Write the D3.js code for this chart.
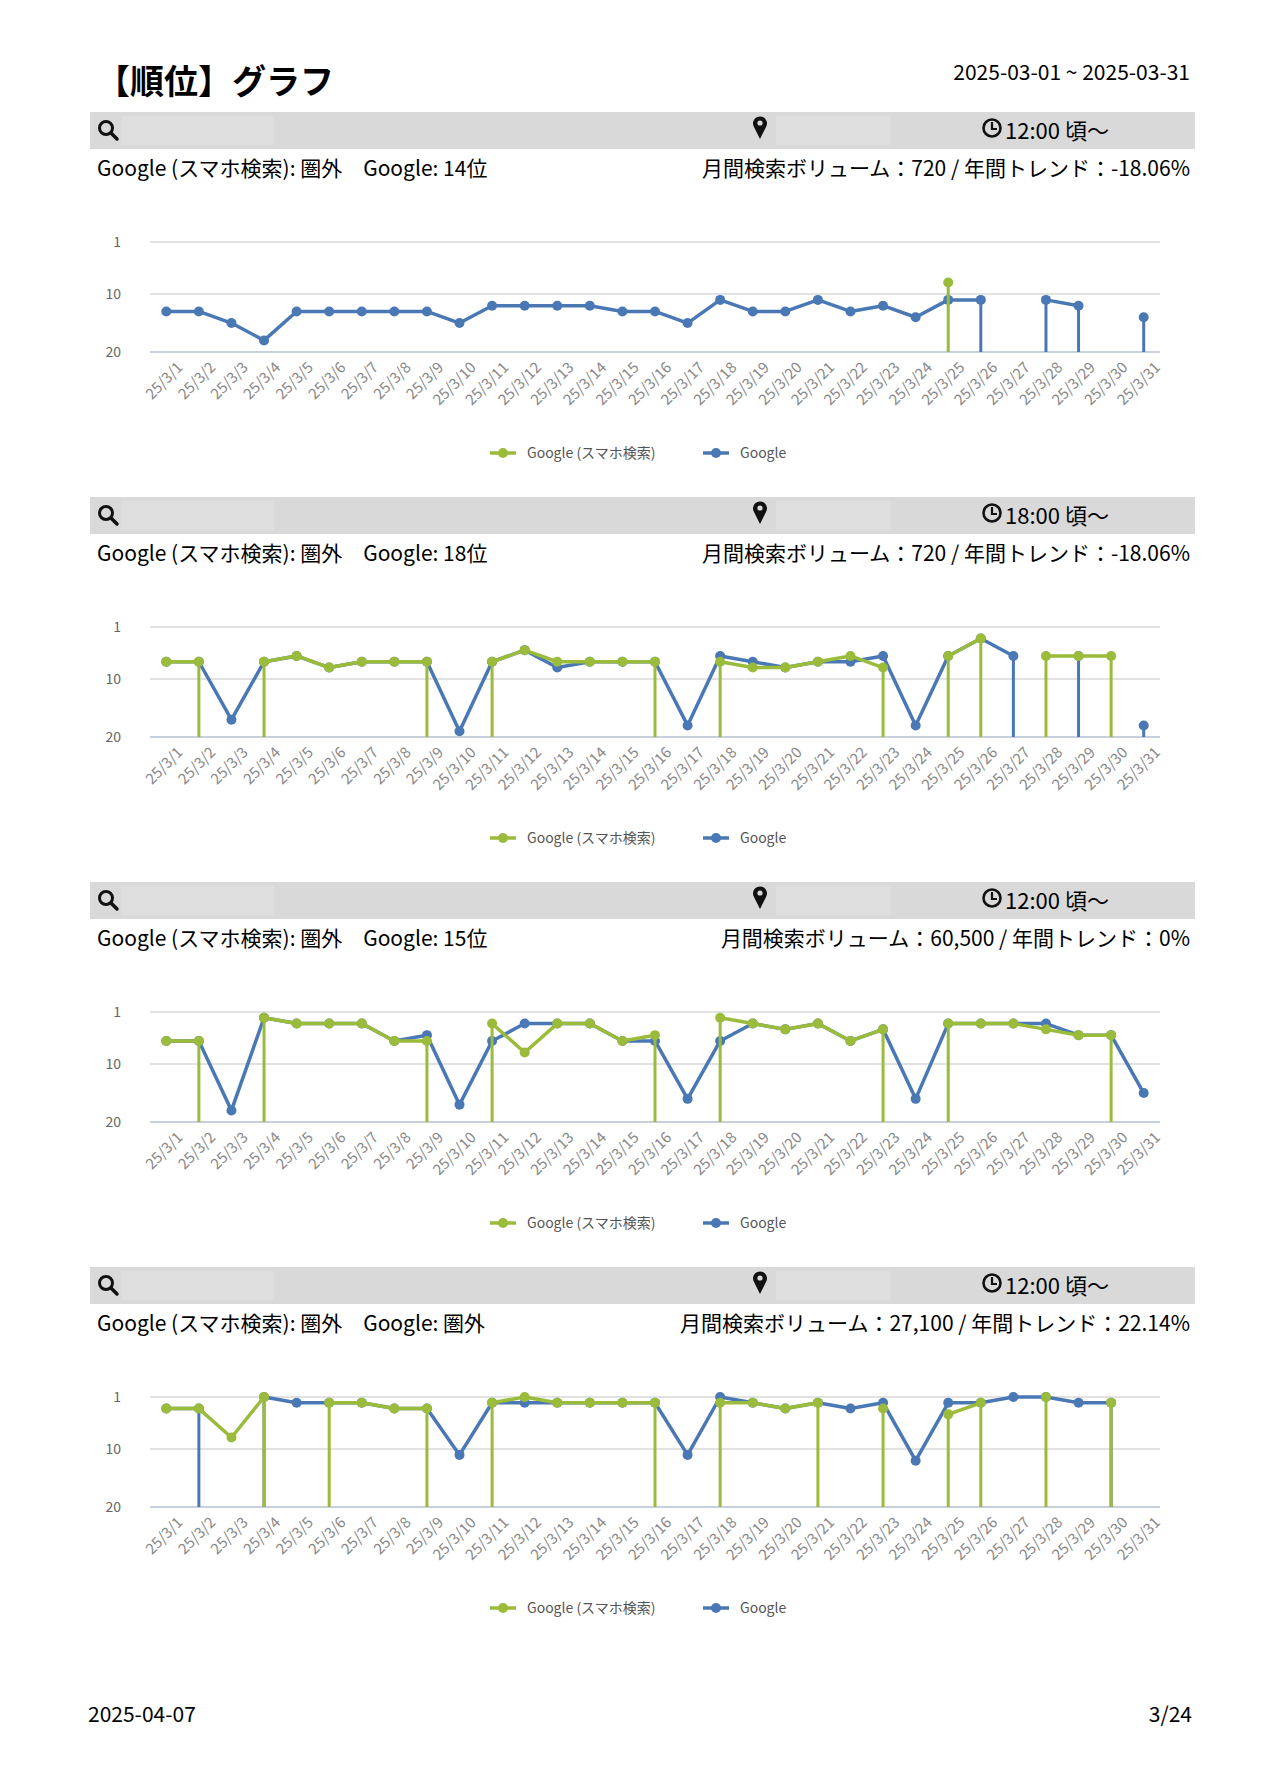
<!DOCTYPE html>
<html><head><meta charset="utf-8">
<script src="https://cdn.jsdelivr.net/npm/d3@7"></script>
<style>
body{margin:0;background:#fff;}
text{font-family:"Noto Sans CJK JP","Noto Sans",sans-serif;}
</style></head>
<body>
<svg id="page" width="1277" height="1791"></svg>
<script>
// dates 25/3/1 .. 25/3/31
const dates = d3.range(1, 32).map(d => `25/3/${d}`);
const yTicks = [1, 10, 20];

// null = out of range (圏外)
const mobile1 = [null,null,null,null,null,null,null,null,null,null,null,null,null,null,null,null,null,null,null,null,null,null,null,null,8,null,null,null,null,null,null];
const google1 = [13,13,15,18,13,13,13,13,13,15,12,12,12,12,13,13,15,11,13,13,11,13,12,14,11,11,null,11,12,null,14];

const mobile2 = [7,7,null,7,6,8,7,7,7,null,7,5,7,7,7,7,null,7,8,8,7,6,8,null,6,3,null,6,6,6,null];
const google2 = [7,7,17,7,6,8,7,7,7,19,7,5,8,7,7,7,18,6,7,8,7,7,6,18,6,3,6,null,6,null,18];

const mobile3 = [6,6,null,2,3,3,3,6,6,null,3,8,3,3,6,5,null,2,3,4,3,6,4,null,3,3,3,4,5,5,null];
const google3 = [6,6,18,2,3,3,3,6,5,17,6,3,3,3,6,6,16,6,3,4,3,6,4,16,3,3,3,3,5,5,15];

const mobile4 = [3,3,8,1,null,2,2,3,3,null,2,1,2,2,2,2,null,2,2,3,2,null,3,null,4,2,null,1,null,2,null];
const google4 = [3,3,null,1,2,2,2,3,3,11,2,2,2,2,2,2,11,1,2,3,2,3,2,12,2,2,1,1,2,2,null];

const times = ["12:00 頃～", "18:00 頃～", "12:00 頃～", "12:00 頃～"];
const ranks = ["Google (スマホ検索): 圏外　Google: 14位", "Google (スマホ検索): 圏外　Google: 18位",
  "Google (スマホ検索): 圏外　Google: 15位", "Google (スマホ検索): 圏外　Google: 圏外"];
const volumes = ["月間検索ボリューム：720 / 年間トレンド：-18.06%", "月間検索ボリューム：720 / 年間トレンド：-18.06%",
  "月間検索ボリューム：60,500 / 年間トレンド：0%", "月間検索ボリューム：27,100 / 年間トレンド：22.14%"];
const charts = [[mobile1, google1], [mobile2, google2], [mobile3, google3], [mobile4, google4]];

const GREEN = "#9bbb3b", BLUE = "#4a78b5";
const svg = d3.select("#page");

svg.append("text").attr("x", 96).attr("y", 94).attr("font-size", 34).attr("font-weight", "bold").text("【順位】グラフ");
svg.append("text").attr("x", 1190).attr("y", 80).attr("text-anchor", "end").attr("font-size", 21).text("2025-03-01 ~ 2025-03-31");
svg.append("text").attr("x", 88).attr("y", 1722).attr("font-size", 21).text("2025-04-07");
svg.append("text").attr("x", 1192).attr("y", 1722).attr("text-anchor", "end").attr("font-size", 21).text("3/24");

const x = d3.scalePoint().domain(dates).range([150, 1160]).padding(0.5);

charts.forEach(([mob, goo], i) => {
  const top = 112 + i * 385;
  const g = svg.append("g").attr("transform", `translate(0,${top})`);

  // header bar
  g.append("rect").attr("x", 90).attr("y", 0).attr("width", 1105).attr("height", 37).attr("fill", "#d9d9d9");
  g.append("rect").attr("x", 121).attr("y", 4).attr("width", 153).attr("height", 29).attr("fill", "#dedede");
  g.append("rect").attr("x", 776).attr("y", 4).attr("width", 115).attr("height", 29).attr("fill", "#dedede");
  // search icon
  g.append("circle").attr("cx", 106).attr("cy", 16).attr("r", 6.5).attr("fill", "none").attr("stroke", "#111").attr("stroke-width", 3);
  g.append("line").attr("x1", 111).attr("y1", 21).attr("x2", 117).attr("y2", 27).attr("stroke", "#111").attr("stroke-width", 3.5).attr("stroke-linecap", "round");
  // pin icon
  g.append("path").attr("d", "M760,27 L754,15 A7,7 0 1 1 766,15 Z").attr("fill", "#111");
  g.append("circle").attr("cx", 760).attr("cy", 11).attr("r", 2.6).attr("fill", "#d9d9d9");
  // clock icon
  g.append("circle").attr("cx", 992).attr("cy", 16).attr("r", 8.5).attr("fill", "none").attr("stroke", "#111").attr("stroke-width", 2.6);
  g.append("path").attr("d", "M992,10 V17 H997").attr("fill", "none").attr("stroke", "#111").attr("stroke-width", 2.2);
  g.append("text").attr("x", 1005).attr("y", 27).attr("font-size", 22).text(times[i]);

  g.append("text").attr("x", 97).attr("y", 64).attr("font-size", 21).text(ranks[i]);
  g.append("text").attr("x", 1190).attr("y", 64).attr("text-anchor", "end").attr("font-size", 21).text(volumes[i]);

  const y = d3.scaleLinear().domain([1, 20]).range([130, 240]);

  g.selectAll(".grid").data(yTicks).join("line")
    .attr("x1", 150).attr("x2", 1160)
    .attr("y1", d => y(d)).attr("y2", d => y(d))
    .attr("stroke", d => d === 20 ? "#c8cfdd" : "#e2e2e2").attr("stroke-width", 2);

  const yAxis = g.append("g").attr("transform", "translate(124,0)")
    .call(d3.axisLeft(y).tickValues(yTicks).tickSize(0));
  yAxis.select(".domain").remove();
  yAxis.selectAll("text").attr("font-size", 14).attr("fill", "#666").style("font-family", "'Noto Sans CJK JP'");

  const xAxis = g.append("g").attr("transform", "translate(0,250)")
    .call(d3.axisBottom(x).tickSize(0));
  xAxis.select(".domain").remove();
  xAxis.selectAll("text").attr("font-size", 15).attr("fill", "#888")
    .style("font-family", "'Noto Sans CJK JP'")
    .attr("text-anchor", "end").attr("dx", "0.5em").attr("dy", "0.9em")
    .attr("transform", "rotate(-45)");

  const line = d3.line().defined(d => d != null).x((d, j) => x(dates[j])).y(d => y(d));

  [[goo, BLUE], [mob, GREEN]].forEach(([vals, col]) => {
    // drops to the baseline next to out-of-range days
    const drops = [];
    vals.forEach((v, j) => {
      if (v == null) return;
      if ((j > 0 && vals[j - 1] == null) || (j < vals.length - 1 && vals[j + 1] == null)) drops.push({ v, j });
    });
    g.selectAll(null).data(drops).join("line")
      .attr("x1", d => x(dates[d.j])).attr("x2", d => x(dates[d.j]))
      .attr("y1", d => y(d.v)).attr("y2", y(20))
      .attr("stroke", col).attr("stroke-width", 3);
    g.append("path").datum(vals).attr("d", line).attr("fill", "none")
      .attr("stroke", col).attr("stroke-width", 3.5).attr("stroke-linejoin", "round");
    g.selectAll(null).data(vals.map((v, j) => ({ v, j })).filter(d => d.v != null)).join("circle")
      .attr("cx", d => x(dates[d.j])).attr("cy", d => y(d.v)).attr("r", 5).attr("fill", col);
  });

  // legend
  const lg = g.append("g").attr("transform", "translate(0,341)");
  [[GREEN, "Google (スマホ検索)", 490], [BLUE, "Google", 703]].forEach(([col, label, lx]) => {
    lg.append("line").attr("x1", lx).attr("x2", lx + 26).attr("y1", 0).attr("y2", 0).attr("stroke", col).attr("stroke-width", 3.5);
    lg.append("circle").attr("cx", lx + 13).attr("cy", 0).attr("r", 5).attr("fill", col);
    lg.append("text").attr("x", lx + 37).attr("y", 5).attr("font-size", 14).attr("fill", "#555").text(label);
  });
});
</script>
</body></html>
